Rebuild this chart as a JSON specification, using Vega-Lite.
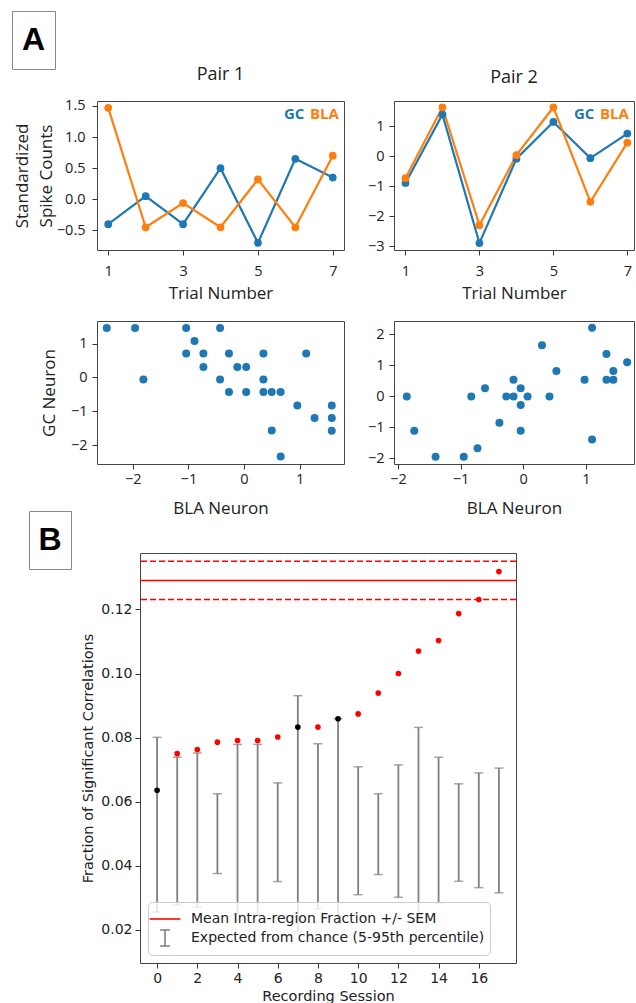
{
  "$schema": "https://vega.github.io/schema/vega-lite/v6.json",
  "background": "white",
  "padding": {"left": 11, "top": 10, "right": 0, "bottom": 0},
  "bounds": "flush",
  "spacing": 0,
  "resolve": {"scale": {"color": "independent", "fill": "independent", "shape": "independent"}, "legend": {"color": "independent", "fill": "independent", "shape": "independent"}},
  "config": {
    "view": {"stroke": null},
    "axis": {
      "grid": false, "domain": false, "tickColor": "#333", "tickSize": 5,
      "labelColor": "#222", "titleColor": "#222",
      "labelFont": "Open Sans", "titleFont": "Open Sans",
      "labelFontSize": 14.5, "titleFontSize": 17, "titleFontWeight": "normal"
    },
    "title": {"font": "Open Sans", "fontSize": 18, "fontWeight": "normal", "color": "#222", "offset": 14}
  },
  "vconcat": [
    {
      "data": {"values": [{"label": "A"}]},
      "width": 43, "height": 58,
      "view": {"stroke": "#888", "strokeWidth": 1},
      "mark": {"type": "text", "font": "Liberation Sans", "fontSize": 32, "fontWeight": "bold", "color": "black"},
      "encoding": {"text": {"field": "label"}}
    },
    {"data": {"values": []}, "mark": "point", "width": 1, "height": 32},
    {
      "columns": 3, "bounds": "flush", "spacing": {"row": 71, "column": 50},
      "resolve": {"scale": {"color": "independent"}, "legend": {"color": "independent"}},
      "concat": [
        {"data": {"values": []}, "mark": "point", "width": 35, "height": 1},
        {
          "title": "Pair 1",
          "width": 247, "height": 149,
          "view": {"stroke": "#444"},
          "data": {"values": [
            {"trial": 1, "region": "GC", "value": -0.40}, {"trial": 2, "region": "GC", "value": 0.05},
            {"trial": 3, "region": "GC", "value": -0.40}, {"trial": 4, "region": "GC", "value": 0.50},
            {"trial": 5, "region": "GC", "value": -0.70}, {"trial": 6, "region": "GC", "value": 0.65},
            {"trial": 7, "region": "GC", "value": 0.35},
            {"trial": 1, "region": "BLA", "value": 1.47}, {"trial": 2, "region": "BLA", "value": -0.45},
            {"trial": 3, "region": "BLA", "value": -0.06}, {"trial": 4, "region": "BLA", "value": -0.45},
            {"trial": 5, "region": "BLA", "value": 0.32}, {"trial": 6, "region": "BLA", "value": -0.45},
            {"trial": 7, "region": "BLA", "value": 0.70}
          ]},
          "mark": {"type": "line", "strokeWidth": 2.2, "point": {"size": 60, "filled": true, "opacity": 1}},
          "encoding": {
            "x": {"field": "trial", "type": "quantitative", "scale": {"domain": [0.7, 7.3], "nice": false, "zero": false},
                  "axis": {"values": [1, 3, 5, 7], "title": "Trial Number", "labelPadding": 9, "titlePadding": 8}},
            "y": {"field": "value", "type": "quantitative", "scale": {"domain": [-0.815, 1.58], "nice": false, "zero": false},
                  "axis": {"values": [-0.5, 0, 0.5, 1, 1.5], "format": ".1f", "title": ["Standardized", "Spike Counts"], "titleLineHeight": 24, "labelPadding": 7, "titlePadding": 1}},
            "color": {"field": "region", "type": "nominal", "sort": ["GC", "BLA"],
                      "scale": {"domain": ["GC", "BLA"], "range": ["#1f77b4", "#ff7f0e"]},
                      "legend": {"orient": "top-right", "direction": "horizontal", "title": null, "offset": 5, "padding": 0,
                                 "gridAlign": "none", "symbolOpacity": 0, "symbolSize": 1, "symbolStrokeWidth": 0, "labelOffset": 0, "columnPadding": -10,
                                 "labelFont": "Open Sans", "labelFontSize": 15, "labelFontWeight": "bold",
                                 "labelColor": {"expr": "datum.value === 'GC' ? '#1f77b4' : '#ff7f0e'"}}}
          }
        },
        {
          "title": "Pair 2",
          "width": 240, "height": 149,
          "view": {"stroke": "#444"},
          "data": {"values": [
            {"trial": 1, "region": "GC", "value": -0.89}, {"trial": 2, "region": "GC", "value": 1.40},
            {"trial": 3, "region": "GC", "value": -2.90}, {"trial": 4, "region": "GC", "value": -0.08},
            {"trial": 5, "region": "GC", "value": 1.15}, {"trial": 6, "region": "GC", "value": -0.06},
            {"trial": 7, "region": "GC", "value": 0.76},
            {"trial": 1, "region": "BLA", "value": -0.73}, {"trial": 2, "region": "BLA", "value": 1.64},
            {"trial": 3, "region": "BLA", "value": -2.30}, {"trial": 4, "region": "BLA", "value": 0.04},
            {"trial": 5, "region": "BLA", "value": 1.64}, {"trial": 6, "region": "BLA", "value": -1.52},
            {"trial": 7, "region": "BLA", "value": 0.46}
          ]},
          "mark": {"type": "line", "strokeWidth": 2.2, "point": {"size": 60, "filled": true, "opacity": 1}},
          "encoding": {
            "x": {"field": "trial", "type": "quantitative", "scale": {"domain": [0.69, 7.18], "nice": false, "zero": false},
                  "axis": {"values": [1, 3, 5, 7], "title": "Trial Number", "labelPadding": 9, "titlePadding": 8}},
            "y": {"field": "value", "type": "quantitative", "scale": {"domain": [-3.13, 1.85], "nice": false, "zero": false},
                  "axis": {"values": [-3, -2, -1, 0, 1], "title": null, "labelPadding": 5}},
            "color": {"field": "region", "type": "nominal", "sort": ["GC", "BLA"],
                      "scale": {"domain": ["GC", "BLA"], "range": ["#1f77b4", "#ff7f0e"]},
                      "legend": {"orient": "top-right", "direction": "horizontal", "title": null, "offset": 5, "padding": 0,
                                 "gridAlign": "none", "symbolOpacity": 0, "symbolSize": 1, "symbolStrokeWidth": 0, "labelOffset": 0, "columnPadding": -10,
                                 "labelFont": "Open Sans", "labelFontSize": 15, "labelFontWeight": "bold",
                                 "labelColor": {"expr": "datum.value === 'GC' ? '#1f77b4' : '#ff7f0e'"}}}
          }
        },
        {"data": {"values": []}, "mark": "point", "width": 35, "height": 1},
        {
          "width": 247, "height": 143,
          "view": {"stroke": "#444"},
          "data": {"values": [
            {"bla": -2.47, "gc": 1.46}, {"bla": -1.96, "gc": 1.46}, {"bla": -1.81, "gc": -0.06},
            {"bla": -1.04, "gc": 1.46}, {"bla": -1.04, "gc": 0.71}, {"bla": -0.89, "gc": 1.08},
            {"bla": -0.73, "gc": 0.71}, {"bla": -0.73, "gc": 0.31}, {"bla": -0.43, "gc": 1.46},
            {"bla": -0.43, "gc": -0.06}, {"bla": -0.27, "gc": 0.71}, {"bla": -0.27, "gc": -0.43},
            {"bla": -0.12, "gc": 0.31}, {"bla": 0.04, "gc": 0.31}, {"bla": 0.04, "gc": -0.43},
            {"bla": 0.35, "gc": 0.71}, {"bla": 0.35, "gc": -0.06}, {"bla": 0.35, "gc": -0.43},
            {"bla": 0.50, "gc": -0.43}, {"bla": 0.66, "gc": -0.43}, {"bla": 0.50, "gc": -1.57},
            {"bla": 0.66, "gc": -2.34}, {"bla": 0.96, "gc": -0.83}, {"bla": 1.12, "gc": 0.71},
            {"bla": 1.27, "gc": -1.20}, {"bla": 1.58, "gc": -0.83}, {"bla": 1.58, "gc": -1.20},
            {"bla": 1.58, "gc": -1.58}
          ]},
          "mark": {"type": "point", "filled": true, "size": 64, "opacity": 1, "color": "#1f77b4"},
          "encoding": {
            "x": {"field": "bla", "type": "quantitative", "scale": {"domain": [-2.645, 1.8], "nice": false, "zero": false},
                  "axis": {"values": [-2, -1, 0, 1], "title": "BLA Neuron", "labelPadding": 3, "titlePadding": 15}},
            "y": {"field": "gc", "type": "quantitative", "scale": {"domain": [-2.56, 1.67], "nice": false, "zero": false},
                  "axis": {"values": [-2, -1, 0, 1], "title": "GC Neuron", "labelPadding": 5, "titlePadding": 12}}
          }
        },
        {
          "width": 240, "height": 143,
          "view": {"stroke": "#444"},
          "data": {"values": [
            {"bla": -1.86, "gc": 0.0}, {"bla": -1.74, "gc": -1.11}, {"bla": -1.40, "gc": -1.95},
            {"bla": -0.95, "gc": -1.95}, {"bla": -0.83, "gc": 0.0}, {"bla": -0.73, "gc": -1.67},
            {"bla": -0.61, "gc": 0.26}, {"bla": -0.38, "gc": -0.85}, {"bla": -0.27, "gc": 0.0},
            {"bla": -0.155, "gc": 0.54}, {"bla": -0.155, "gc": 0.0}, {"bla": -0.04, "gc": 0.26},
            {"bla": -0.04, "gc": -0.28}, {"bla": -0.04, "gc": -1.11}, {"bla": 0.07, "gc": 0.0},
            {"bla": 0.30, "gc": 1.65}, {"bla": 0.42, "gc": 0.0}, {"bla": 0.53, "gc": 0.82},
            {"bla": 0.98, "gc": 0.54}, {"bla": 1.10, "gc": 2.21}, {"bla": 1.10, "gc": -1.39},
            {"bla": 1.33, "gc": 1.37}, {"bla": 1.33, "gc": 0.54}, {"bla": 1.44, "gc": 0.82},
            {"bla": 1.44, "gc": 0.54}, {"bla": 1.66, "gc": 1.10}
          ]},
          "mark": {"type": "point", "filled": true, "size": 64, "opacity": 1, "color": "#1f77b4"},
          "encoding": {
            "x": {"field": "bla", "type": "quantitative", "scale": {"domain": [-2.064, 1.77], "nice": false, "zero": false},
                  "axis": {"values": [-2, -1, 0, 1], "title": "BLA Neuron", "labelPadding": 3, "titlePadding": 15}},
            "y": {"field": "gc", "type": "quantitative", "scale": {"domain": [-2.18, 2.43], "nice": false, "zero": false},
                  "axis": {"values": [-2, -1, 0, 1, 2], "title": null, "labelPadding": 5}}
          }
        }
      ]
    },
    {"data": {"values": []}, "mark": "point", "width": 1, "height": 410},
    {
      "bounds": "flush", "spacing": 0,
      "resolve": {"scale": {"color": "independent", "fill": "independent", "shape": "independent"}, "legend": {"color": "independent", "fill": "independent", "shape": "independent"}},
      "hconcat": [
        {"data": {"values": []}, "mark": "point", "width": 17, "height": 1},
        {
          "data": {"values": [{"label": "B"}]},
          "width": 42, "height": 58,
          "view": {"stroke": "#888", "strokeWidth": 1},
          "mark": {"type": "text", "font": "Liberation Sans", "fontSize": 32, "fontWeight": "bold", "color": "black"},
          "encoding": {"text": {"field": "label"}}
        },
        {"data": {"values": []}, "mark": "point", "width": 69, "height": 1},
        {
          "bounds": "flush", "spacing": 0,
          "resolve": {"scale": {"color": "independent", "fill": "independent", "shape": "independent"}, "legend": {"color": "independent", "fill": "independent", "shape": "independent"}},
          "vconcat": [
            {"data": {"values": []}, "mark": "point", "width": 1, "height": 42},
            {
              "width": 376, "height": 410,
              "view": {"stroke": "#444"},
              "layer": [
                {
                  "data": {"values": [
                    {"session": 0, "lo": 0.0256, "hi": 0.0801}, {"session": 1, "lo": 0.0278, "hi": 0.0739},
                    {"session": 2, "lo": 0.0271, "hi": 0.0752}, {"session": 3, "lo": 0.0376, "hi": 0.0625},
                    {"session": 4, "lo": 0.0250, "hi": 0.0779}, {"session": 5, "lo": 0.0250, "hi": 0.0779},
                    {"session": 6, "lo": 0.0351, "hi": 0.0659}, {"session": 7, "lo": 0.0195, "hi": 0.0931},
                    {"session": 8, "lo": 0.0265, "hi": 0.0781}, {"session": 9, "lo": 0.0220, "hi": 0.0859},
                    {"session": 10, "lo": 0.0310, "hi": 0.0709}, {"session": 11, "lo": 0.0373, "hi": 0.0625},
                    {"session": 12, "lo": 0.0302, "hi": 0.0715}, {"session": 13, "lo": 0.0239, "hi": 0.0832},
                    {"session": 14, "lo": 0.0284, "hi": 0.0739}, {"session": 15, "lo": 0.0352, "hi": 0.0656},
                    {"session": 16, "lo": 0.0332, "hi": 0.0690}, {"session": 17, "lo": 0.0316, "hi": 0.0705}
                  ]},
                  "layer": [
                    {"mark": {"type": "rule", "color": "#808080", "strokeWidth": 1.8},
                     "encoding": {
                       "x": {"field": "session", "type": "quantitative", "scale": {"domain": [-0.85, 17.85], "nice": false, "zero": false},
                             "axis": {"values": [0, 2, 4, 6, 8, 10, 12, 14, 16], "title": "Recording Session", "labelFont": "DejaVu Sans", "titleFont": "DejaVu Sans", "labelFontSize": 14, "titleFontSize": 14.5, "labelPadding": 3, "titlePadding": 4}},
                       "y": {"field": "lo", "type": "quantitative", "scale": {"domain": [0.0097, 0.1376], "nice": false, "zero": false},
                             "axis": {"values": [0.02, 0.04, 0.06, 0.08, 0.10, 0.12], "format": ".2f", "title": "Fraction of Significant Correlations", "labelFont": "DejaVu Sans", "titleFont": "DejaVu Sans", "labelFontSize": 14, "titleFontSize": 14.5, "labelPadding": 3, "titlePadding": 5}},
                       "y2": {"field": "hi"}}},
                    {"mark": {"type": "tick", "orient": "horizontal", "color": "#808080", "size": 9, "thickness": 1.5},
                     "encoding": {"x": {"field": "session", "type": "quantitative"}, "y": {"field": "lo", "type": "quantitative"}}},
                    {"mark": {"type": "tick", "orient": "horizontal", "color": "#808080", "size": 9, "thickness": 1.5},
                     "encoding": {"x": {"field": "session", "type": "quantitative"}, "y": {"field": "hi", "type": "quantitative"}}}
                  ]
                },
                {
                  "data": {"values": [
                    {"kind": "mean", "value": 0.1290}, {"kind": "sem", "value": 0.1350}, {"kind": "sem", "value": 0.1231}
                  ]},
                  "layer": [
                    {"transform": [{"filter": "datum.kind === 'mean'"}],
                     "mark": {"type": "rule", "color": "#ff0000", "strokeWidth": 1.4},
                     "encoding": {"y": {"field": "value", "type": "quantitative"}}},
                    {"transform": [{"filter": "datum.kind === 'sem'"}],
                     "mark": {"type": "rule", "color": "#ff0000", "strokeWidth": 1.5, "strokeDash": [6, 3]},
                     "encoding": {"y": {"field": "value", "type": "quantitative"}}}
                  ]
                },
                {
                  "data": {"values": [
                    {"session": 0, "fraction": 0.0636, "significant": "no"}, {"session": 1, "fraction": 0.0750, "significant": "yes"},
                    {"session": 2, "fraction": 0.0763, "significant": "yes"}, {"session": 3, "fraction": 0.0786, "significant": "yes"},
                    {"session": 4, "fraction": 0.0791, "significant": "yes"}, {"session": 5, "fraction": 0.0791, "significant": "yes"},
                    {"session": 6, "fraction": 0.0802, "significant": "yes"}, {"session": 7, "fraction": 0.0833, "significant": "no"},
                    {"session": 8, "fraction": 0.0833, "significant": "yes"}, {"session": 9, "fraction": 0.0859, "significant": "no"},
                    {"session": 10, "fraction": 0.0874, "significant": "yes"}, {"session": 11, "fraction": 0.0939, "significant": "yes"},
                    {"session": 12, "fraction": 0.1000, "significant": "yes"}, {"session": 13, "fraction": 0.1070, "significant": "yes"},
                    {"session": 14, "fraction": 0.1103, "significant": "yes"}, {"session": 15, "fraction": 0.1187, "significant": "yes"},
                    {"session": 16, "fraction": 0.1231, "significant": "yes"}, {"session": 17, "fraction": 0.1318, "significant": "yes"}
                  ]},
                  "mark": {"type": "point", "filled": true, "size": 32, "opacity": 1},
                  "encoding": {
                    "x": {"field": "session", "type": "quantitative"},
                    "y": {"field": "fraction", "type": "quantitative"},
                    "fill": {"field": "significant", "type": "nominal", "scale": {"domain": ["yes", "no"], "range": ["#ff0000", "#000000"]}, "legend": null}
                  }
                },
                {
                  "data": {"values": [
                    {"entry": "Mean Intra-region Fraction +/- SEM"},
                    {"entry": "Expected from chance (5-95th percentile)"}
                  ]},
                  "mark": {"type": "point", "filled": false, "opacity": 0},
                  "encoding": {
                    "color": {"field": "entry", "type": "nominal",
                              "scale": {"domain": ["Mean Intra-region Fraction +/- SEM", "Expected from chance (5-95th percentile)"], "range": ["#ff0000", "#808080"]},
                              "legend": {"orient": "bottom-left", "offset": 8, "padding": 5, "title": null,
                                         "fillColor": "rgba(255,255,255,0.8)", "strokeColor": "#cccccc", "cornerRadius": 4,
                                         "symbolSize": 484, "symbolOpacity": 1, "symbolStrokeWidth": 1.6,
                                         "labelFont": "DejaVu Sans", "labelFontSize": 14, "labelColor": "#222", "labelOffset": 14,
                                         "rowPadding": 0, "labelLimit": 400}},
                    "shape": {"field": "entry", "type": "nominal",
                              "scale": {"domain": ["Mean Intra-region Fraction +/- SEM", "Expected from chance (5-95th percentile)"],
                                        "range": ["M-1.4,0H1.4", "M-0.45,-0.73H0.45M0,-0.73V0.73M-0.45,0.73H0.45"]}}
                  }
                }
              ]
            }
          ]
        }
      ]
    }
  ]
}
